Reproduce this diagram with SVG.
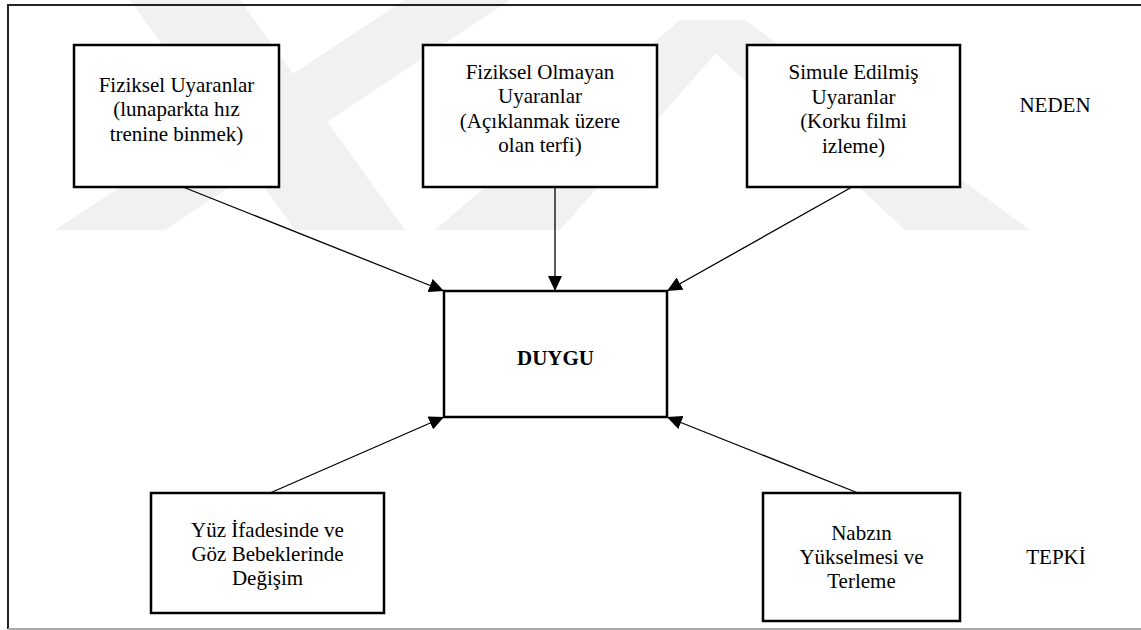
<svg xmlns="http://www.w3.org/2000/svg" width="1141" height="630" viewBox="0 0 1141 630">
<style>
.box{fill:#fff;stroke:#000;stroke-width:2.5}
.t{font-family:'Liberation Serif','Tinos','Times New Roman','DejaVu Serif',serif;font-size:21px;fill:#000;text-anchor:middle}
.b{font-weight:bold}
.c{stroke:#000;stroke-width:1.3;fill:none;marker-end:url(#ah)}
.wm{fill:#f1f1f1}
</style>
<defs>
<marker id="ah" markerUnits="userSpaceOnUse" markerWidth="16" markerHeight="14" refX="15" refY="7" orient="auto">
<path d="M0,0 L15,7 L0,14 Z" fill="#000"/>
</marker>
</defs>
<rect width="1141" height="630" fill="#fff"/>
<g id="watermark">
<polygon class="wm" points="130,0 240,0 405,230 295,230"/>
<polygon class="wm" points="55,230 165,230 510,0 405,0"/>
<polygon class="wm" points="435,230 560,230 745,20 680,20"/>
<polygon class="wm" points="680,20 745,20 1030,230 905,230"/>
</g>
<g id="frame">
<path d="M1141,5 H8 V629" fill="none" stroke="#222" stroke-width="2"/>
<line x1="8" y1="629" x2="1141" y2="629" stroke="#aaa" stroke-width="2"/>
</g>
<g id="connectors">
<line class="c" x1="183" y1="187" x2="444" y2="291"/>
<line class="c" x1="555" y1="187" x2="555" y2="291"/>
<line class="c" x1="852" y1="187" x2="667" y2="291"/>
<line class="c" x1="270" y1="493" x2="444" y2="417"/>
<line class="c" x1="858" y1="493" x2="667" y2="417"/>
</g>
<g id="n1">
<rect class="box" x="74" y="45" width="205" height="142"/>
<text class="t" x="176.5" y="91.5">Fiziksel Uyaranlar</text>
<text class="t" x="176.5" y="116">(lunaparkta hız</text>
<text class="t" x="176.5" y="140.5">trenine binmek)</text>
</g>
<g id="n2">
<rect class="box" x="423" y="45" width="234" height="142"/>
<text class="t" x="540" y="78.5">Fiziksel Olmayan</text>
<text class="t" x="540" y="103">Uyaranlar</text>
<text class="t" x="540" y="127.5">(Açıklanmak üzere</text>
<text class="t" x="540" y="152">olan terfi)</text>
</g>
<g id="n3">
<rect class="box" x="747" y="45" width="213" height="142"/>
<text class="t" x="853.5" y="79">Simule Edilmiş</text>
<text class="t" x="853.5" y="103.5">Uyaranlar</text>
<text class="t" x="853.5" y="128">(Korku filmi</text>
<text class="t" x="853.5" y="152.5">izleme)</text>
</g>
<g id="duygu">
<rect class="box" x="444" y="291" width="223" height="126"/>
<text class="t b" x="555.5" y="365">DUYGU</text>
</g>
<g id="n4">
<rect class="box" x="151" y="493" width="233" height="120"/>
<text class="t" x="267.5" y="537">Yüz İfadesinde ve</text>
<text class="t" x="267.5" y="561">Göz Bebeklerinde</text>
<text class="t" x="267.5" y="585">Değişim</text>
</g>
<g id="n5">
<rect class="box" x="763" y="493" width="197" height="128"/>
<text class="t" x="861.5" y="540">Nabzın</text>
<text class="t" x="861.5" y="564">Yükselmesi ve</text>
<text class="t" x="861.5" y="588">Terleme</text>
</g>
<g id="labels">
<text class="t" x="1055" y="112">NEDEN</text>
<text class="t" x="1056" y="564">TEPKİ</text>
</g>
</svg>
